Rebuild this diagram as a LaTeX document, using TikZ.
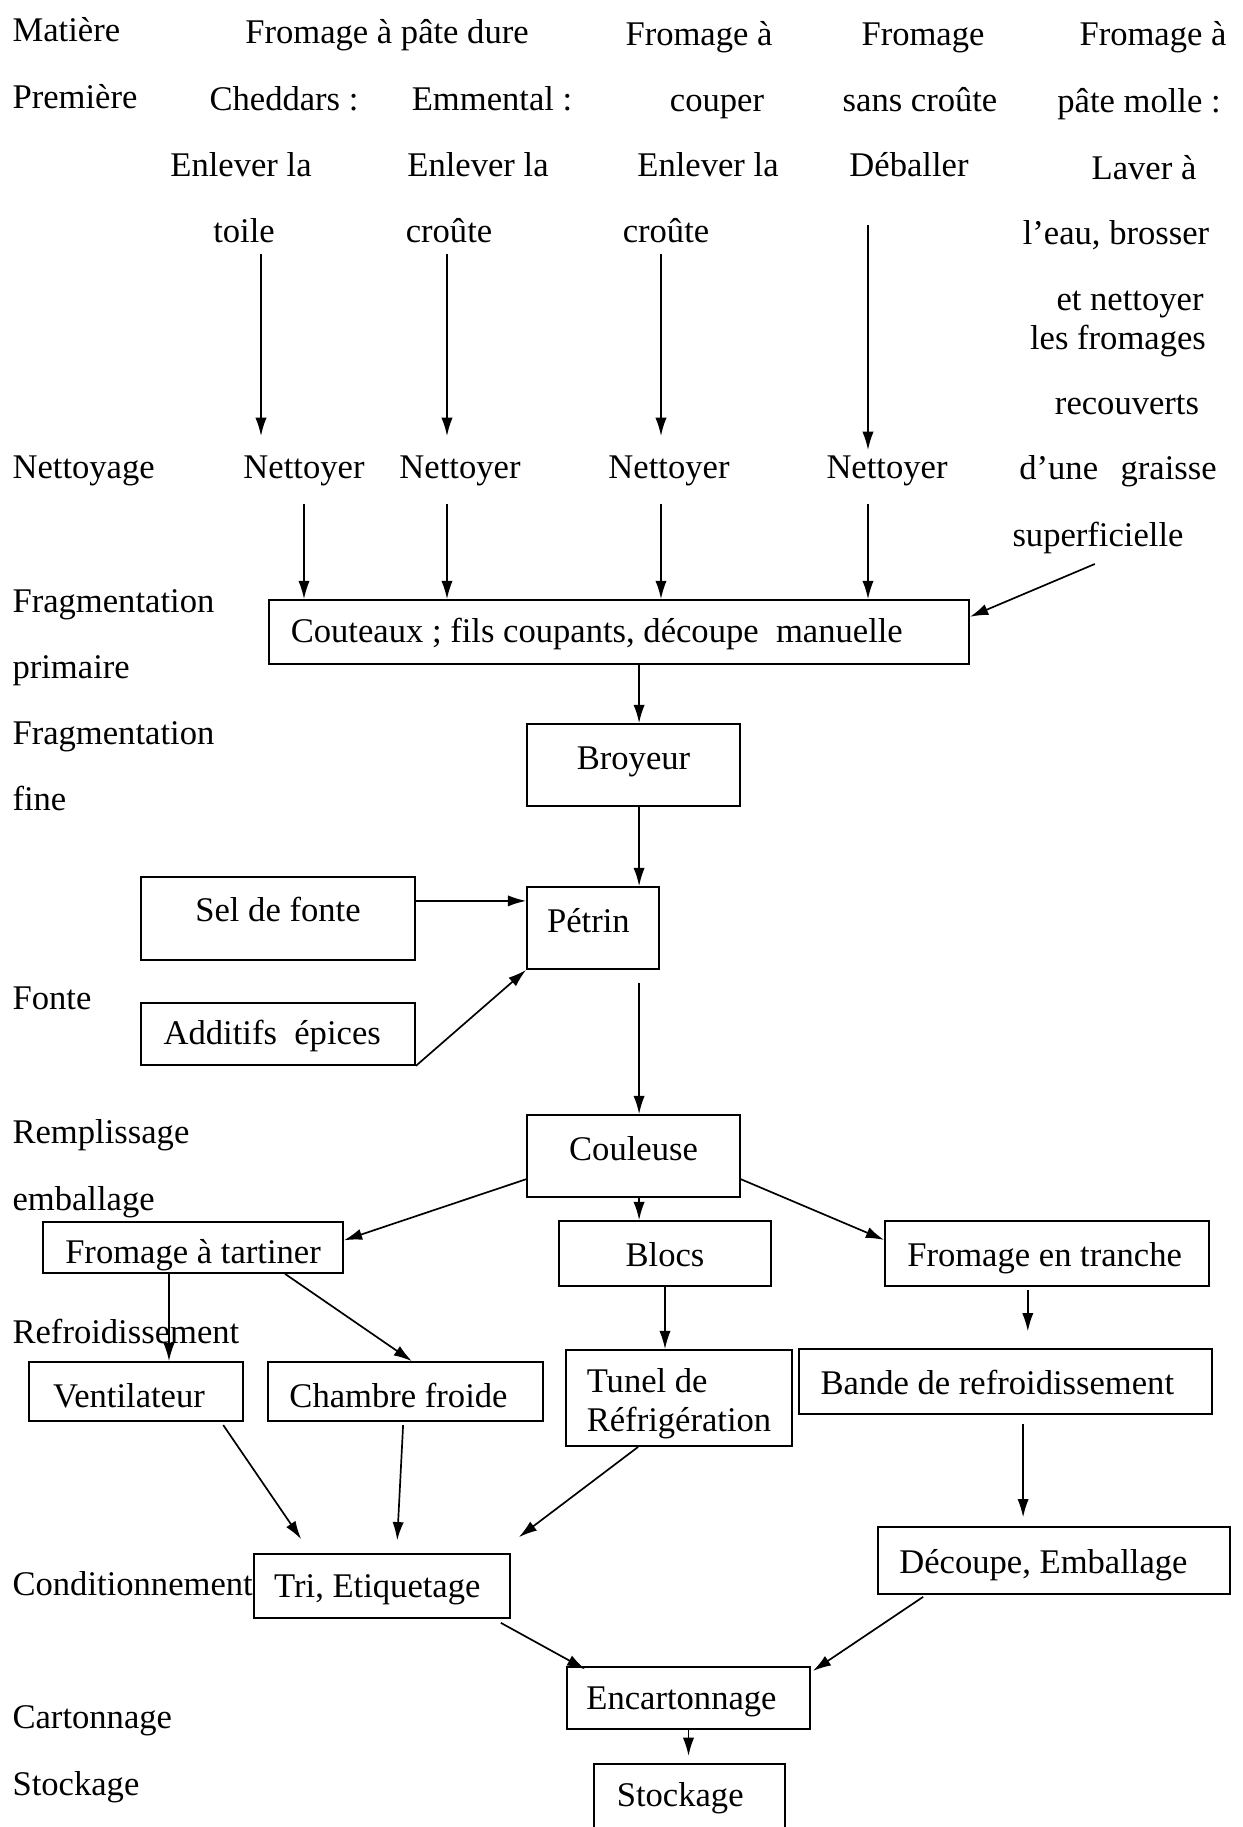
\documentclass[tikz,border=0pt]{standalone}
\usepackage{fontspec}
\setmainfont{Liberation Serif}
\usetikzlibrary{arrows.meta}

\begin{document}
\begin{tikzpicture}[x=0.0125cm,y=-0.0125cm]
        \tikzset{Box/.style={%
            shape=rectangle,%
            draw=black,%
            line width=0.6pt,%
            inner sep=0pt,%
            text height=8.6pt,%
            text depth=2.7pt,%
            font=\fontsize{12.3}{15}\selectfont,%
        }}
        \tikzset{Word/.style={%
            inner sep=0pt,%
            text height=8.6pt,%
            text depth=2.7pt,%
            yshift=-1.4pt,%
            font=\fontsize{12.3}{15}\selectfont,%
        }}
        \tikzset{Stage/.style={Word, anchor=west}}
        \tikzset{Pad/.style={execute at end node={\hspace*{#1}}}}
        \tikzset{Arrow/.style={-{Latex[length=6.5pt,width=4pt]}, line width=0.6pt}}

        \useasboundingbox (0,0) rectangle (1242,1827);

        % etapes
        \foreach \n/\y/\t in {e1/29/Matière, e2/96/Première, e3/466/Nettoyage,
            e4/600/Fragmentation, e5/666/primaire, e6/732/Fragmentation, e7/798/fine,
            e8/997/Fonte, e9/1131/Remplissage, e10/1198/emballage,
            e11/1331/Refroidissement, e12/1583/Conditionnement,
            e13/1716/Cartonnage, e14/1783/Stockage}
            \node[Stage] (\n) at (12,\y) {\t};

        % matieres premieres
        \node[Word] (m1) at (387,31) {Fromage à pâte dure};
        \node[Word] (m2) at (284,98) {Cheddars :};
        \node[Word] (m3) at (492,98) {Emmental :};
        \node[Word] (m4) at (241,164) {Enlever la};
        \node[Word] (m5) at (244,230) {toile};
        \node[Word] (m6) at (478,164) {Enlever la};
        \node[Word] (m7) at (449,230) {croûte};
        \node[Word] (m8) at (699,33) {Fromage à};
        \node[Word] (m9) at (717,99) {couper};
        \node[Word] (m10) at (708,164) {Enlever la};
        \node[Word] (m11) at (666,230) {croûte};
        \node[Word] (m12) at (923,33) {Fromage};
        \node[Word] (m13) at (920,99) {sans croûte};
        \node[Word] (m14) at (909,164) {Déballer};
        \node[Word] (m15) at (1153,33) {Fromage à};
        \node[Word] (m16) at (1139,100) {pâte molle :};
        \node[Word] (m17) at (1144,167) {Laver à};
        \node[Word] (m18) at (1116,232) {l’eau, brosser};
        \node[Word] (m19) at (1130,298) {et nettoyer};
        \node[Word] (m20) at (1118,337) {les fromages};
        \node[Word] (m21) at (1127,402) {recouverts};
        \node[Word] (m22) at (1118,467) {d’une\hspace{8pt}graisse};
        \node[Word] (m23) at (1098,534) {superficielle};

        % nettoyage
        \node[Word] (n1) at (304,466) {Nettoyer};
        \node[Word] (n2) at (460,466) {Nettoyer};
        \node[Word] (n3) at (669,466) {Nettoyer};
        \node[Word] (n4) at (887,466) {Nettoyer};

        % boites
        \node[Box, Pad=15.8pt, text height=10.2pt, minimum width=8.75cm, minimum height=0.8cm] (couteaux) at (619,632) {Couteaux ; fils coupants, découpe\ \ manuelle};
        \node[Box, text depth=5.2pt, minimum width=2.6625cm, minimum height=1.025cm] (broyeur) at (633.5,765) {Broyeur};
        \node[Box, Pad=3.3pt, text depth=5.7pt, minimum width=1.65cm, minimum height=1.025cm] (petrin) at (593,928) {Pétrin};
        \node[Box, text depth=6.6pt, minimum width=3.425cm, minimum height=1.0375cm] (sel) at (278,918.5) {Sel de fonte};
        \node[Box, Pad=4.1pt, text height=10.2pt, minimum width=3.425cm, minimum height=0.775cm] (additifs) at (278,1034) {Additifs\ \ épices};
        \node[Box, text depth=5.7pt, minimum width=2.6625cm, minimum height=1.025cm] (couleuse) at (633.5,1156) {Couleuse};
        \node[Box, text height=14.4pt, minimum width=3.75cm, minimum height=0.6375cm] (tartiner) at (193,1247.5) {Fromage à tartiner};
        \node[Box, text height=12.2pt, minimum width=2.65cm, minimum height=0.8125cm] (blocs) at (665,1253.5) {Blocs};
        \node[Box, Pad=1.7pt, text height=11.9pt, minimum width=4.05cm, minimum height=0.8125cm] (tranche) at (1047,1253.5) {Fromage en tranche};
        \node[Box, Pad=5pt, text height=13.8pt, minimum width=2.675cm, minimum height=0.7375cm] (ventilateur) at (136,1391.5) {Ventilateur};
        \node[Box, Pad=5pt, text height=13.8pt, minimum width=3.4375cm, minimum height=0.7375cm] (chambre) at (405.5,1391.5) {Chambre froide};
        \node[Box, text height=, text depth=, font=\fontsize{12.3}{14}\selectfont, minimum width=2.825cm, minimum height=1.2cm, align=left] (tunel) at (679,1398) {\rule{0pt}{12.6pt}Tunel de\\Réfrigération};
        \node[Box, Pad=5.8pt, text height=12.2pt, minimum width=5.1625cm, minimum height=0.8125cm] (bande) at (1005.5,1381.5) {Bande de refroidissement};
        \node[Box, Pad=3.3pt, text height=11pt, minimum width=3.2cm, minimum height=0.8cm] (tri) at (382,1586) {Tri, Etiquetage};
        \node[Box, Pad=7.5pt, text height=11.9pt, minimum width=4.4cm, minimum height=0.8375cm] (decoupe) at (1054,1560.5) {Découpe, Emballage};
        \node[Box, Pad=5pt, text height=11pt, minimum width=3.0375cm, minimum height=0.775cm] (encart) at (688.5,1698) {Encartonnage};
        \node[Box, Pad=6.6pt, text height=9.4pt, minimum width=2.3875cm, minimum height=0.825cm] (stockage) at (689.5,1797) {Stockage};

        % fleches du haut
        \foreach \i/\x/\ya/\yb in {1/261/254/436, 2/447/254/436, 3/661/254/436, 4/868/225/450} {
            \coordinate (u\i) at (\x,\ya);
            \coordinate (w\i) at (\x,\yb);
            \path (u\i) edge[Arrow] (w\i);
        }
        \foreach \i/\x in {1/304, 2/447, 3/661, 4/868} {
            \coordinate (d\i) at (\x,504);
            \path (d\i) edge[Arrow] (d\i |- couteaux.north);
        }
        \path ([xshift=-0.4mm,yshift=-1.2mm]m23.south) edge[Arrow] ([yshift=1.9mm]couteaux.east);

        % fleches entre boites
        \path ([xshift=0.7mm]couteaux.south -| broyeur.north) edge[Arrow] ([xshift=0.7mm]broyeur.north);
        \path ([xshift=0.7mm]broyeur.south) edge[Arrow] ([xshift=0.7mm]broyeur.south |- petrin.north);
        \path ([yshift=2.2mm]sel.east) edge[Arrow] ([yshift=2.2mm]sel.east -| petrin.west);
        \path (additifs.south east) edge[Arrow] (petrin.south west);
        \path ([xshift=0.7mm]petrin.south -| couleuse.north) edge[Arrow, shorten <=1.6mm] ([xshift=0.7mm]couleuse.north);
        \path ([yshift=-2.9mm]couleuse.west) edge[Arrow] ([yshift=0.9mm]tartiner.east);
        \path ([xshift=0.7mm]couleuse.south) edge[Arrow] ([xshift=0.7mm]couleuse.south |- blocs.north);
        \path ([yshift=-2.9mm]couleuse.east) edge[Arrow] ([yshift=1.7mm]tranche.west);
        \path ([xshift=-3mm]tartiner.south) edge[Arrow] ([xshift=-3mm]tartiner.south |- ventilateur.north);
        \path ([xshift=11.5mm]tartiner.south) edge[Arrow] ([xshift=0.8mm]chambre.north);
        \path (blocs.south) edge[Arrow] (blocs.south |- tunel.north);
        \path ([xshift=-2.4mm,yshift=-0.4mm]tranche.south) edge[Arrow, shorten >=2.1mm] ([xshift=-2.4mm]tranche.south |- bande.north);
        \path ([xshift=10.9mm,yshift=-0.4mm]ventilateur.south) edge[Arrow] ([xshift=-10.1mm,yshift=1.75mm]tri.north);
        \path ([xshift=-0.3mm,yshift=-0.4mm]chambre.south) edge[Arrow] ([xshift=1.9mm,yshift=1.6mm]tri.north);
        \path ([xshift=-5.1mm]tunel.south) edge[Arrow] ([xshift=1mm,yshift=2mm]tri.north east);
        \path ([xshift=2.2mm,yshift=-1.1mm]bande.south) edge[Arrow, shorten >=1.1mm] ([xshift=2.2mm]bande.south |- decoupe.north);
        \path ([xshift=-1.25mm,yshift=-0.5mm]tri.south east) edge[Arrow] ([xshift=2.4mm,yshift=-0.4mm]encart.north west);
        \path ([xshift=5.75mm,yshift=-0.25mm]decoupe.south west) edge[Arrow] ([xshift=0.25mm,yshift=-0.6mm]encart.north east);
        \path (encart.south) edge[Arrow, shorten >=0.9mm] (encart.south |- stockage.north);
\end{tikzpicture}
\end{document}
